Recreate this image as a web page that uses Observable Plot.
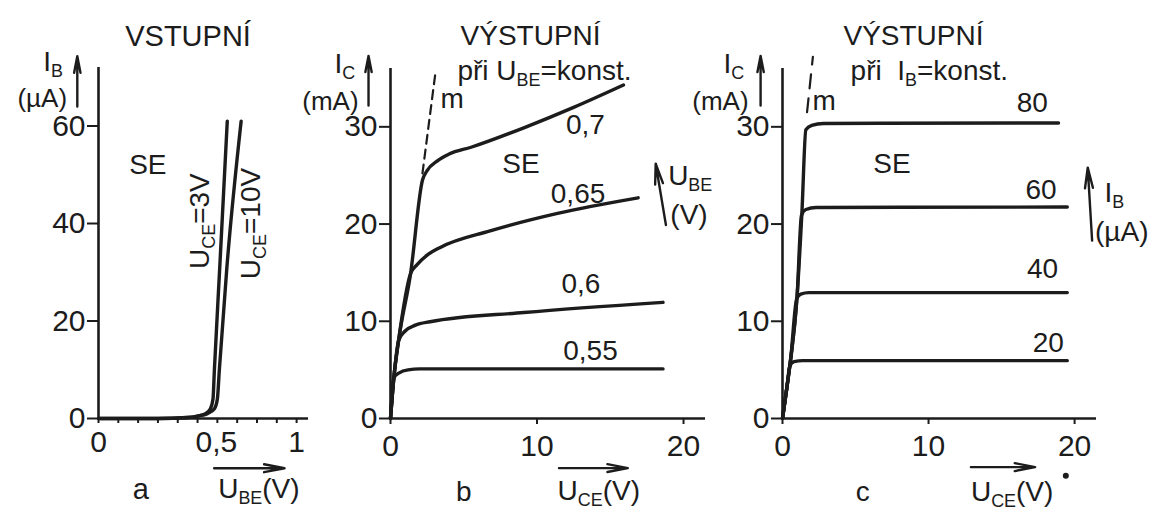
<!DOCTYPE html>
<html>
<head>
<meta charset="utf-8">
<script src="https://cdn.jsdelivr.net/npm/d3@7"></script>
<script src="https://cdn.jsdelivr.net/npm/@observablehq/plot@0.6"></script>
<style>
  html, body { margin: 0; padding: 0; background: #ffffff; }
  #chart { position: relative; width: 1157px; height: 512px; background: #ffffff; overflow: hidden; }
  #chart svg { position: absolute; left: 0; top: 0; background: transparent; }
</style>
</head>
<body>
<div id="chart"></div>
<script>
// ---------------- DATA ----------------
// Panel a: input characteristics I_B (µA) vs U_BE (V)
const inputUCE3V  = [[0,0],[0.3,0],[0.45,0.2],[0.5,0.5],[0.54,1],[0.565,2],[0.578,4],[0.585,10],[0.612,31],[0.65,61]];
const inputUCE10V = [[0,0],[0.3,0],[0.45,0.2],[0.5,0.5],[0.55,1],[0.585,2],[0.6,4],[0.61,10],[0.648,31],[0.72,61]];
// Panel b: output characteristics I_C (mA) vs U_CE (V) at constant U_BE
const outUBE055 = [[0,0],[0.23,4.2],[0.6,4.7],[1.2,5.0],[2,5.1],[18.6,5.1]];
const outUBE060 = [[0,0],[0.23,4.2],[0.55,8],[1.0,9.0],[1.7,9.6],[2.7,9.95],[9.1,10.9],[18.6,11.95]];
const outUBE065 = [[0,0],[0.23,4.2],[0.55,8],[1.37,14.9],[1.8,15.8],[2.5,16.8],[3.4,17.6],[6.8,19.3],[11.4,21.1],[16.9,22.7]];
const outUBE070 = [[0,0],[0.23,4.2],[0.55,8],[1.37,14.9],[2.18,24.5],[2.5,25.5],[3.2,26.5],[4,27.2],[5.5,27.9],[9.1,29.9],[12.5,32],[15.9,34.3]];
const mLineB = [[2.18,25.2],[3.07,35.6]];
// Panel c: output characteristics I_C (mA) vs U_CE (V) at constant I_B
const outIB20 = [[0,0],[0.3,3.2],[0.5,5.4],[0.8,5.85],[1.4,5.95],[19.5,5.95]];
const outIB40 = [[0,0],[0.3,3.2],[0.55,6],[0.97,12.3],[1.25,12.8],[1.8,12.95],[19.5,12.95]];
const outIB60 = [[0,0],[0.3,3.2],[0.55,6],[1.0,12.6],[1.3,20.9],[1.6,21.5],[2.3,21.7],[19.5,21.75]];
const outIB80 = [[0,0],[0.3,3.2],[0.55,6],[1.0,12.6],[1.33,21.2],[1.6,29.7],[2.0,30.15],[2.8,30.35],[18.9,30.4]];
const mLineC = [[1.68,31.5],[2.08,37.2]];
// Ticks
const aTicksMinor = [0,0.1,0.2,0.3,0.4,0.5,0.6,0.7,0.8,0.9,1];
const aTicksLabelled = [0,1];
const aTickHalf = [0.5];
const aTicksY = [0,20,40,60];
const bcTicksX = [0,10,20];
const bcTicksY = [0,10,20,30];
// Texts
const titleA = "VSTUPNÍ";
const titleBC = "VÝSTUPNÍ";
const curveLabelsB = ["0,7","0,65","0,6","0,55"];
const curveLabelsC = ["80","60","40","20"];

// -------------- HELPERS ---------------
const FONT = "'Liberation Sans', Arial, Helvetica, sans-serif";
const INK = "#1c1c1c";
const rows = (name, pts) => pts.map(([x, y]) => ({series: name, x, y}));
const comma = d => String(d).replace(".", ",");

function subscripts(svg) {
  const ns = "http://www.w3.org/2000/svg";
  svg.querySelectorAll("text").forEach(t => {
    const s = t.textContent;
    if (!s.includes("_{")) return;
    t.textContent = "";
    const parts = s.split(/(_\{[^}]*\})/).filter(p => p.length);
    let down = false;
    parts.forEach(p => {
      const ts = document.createElementNS(ns, "tspan");
      if (p.startsWith("_{")) {
        ts.textContent = p.slice(2, -1);
        ts.setAttribute("font-size", "64%");
        ts.setAttribute("dy", "6");
        down = true;
      } else {
        ts.textContent = p;
        if (down) { ts.setAttribute("dy", "-6"); down = false; }
      }
      t.appendChild(ts);
    });
  });
  return svg;
}

function mount(svg) {
  subscripts(svg);
  svg.style.position = "absolute";
  svg.style.left = "0px";
  svg.style.top = "0px";
  svg.style.background = "transparent";
  svg.style.maxWidth = "none";
  document.getElementById("chart").appendChild(svg);
}

const common = {
  width: 1157, height: 512,
  style: {fontFamily: FONT, fontSize: "29px", color: INK, background: "transparent"}
};
const lineOpts = {x: "x", y: "y", z: "series", curve: "monotone-x", stroke: INK, strokeWidth: 3.4, strokeLinejoin: "round", strokeLinecap: "round"};
const axisLineW = 2.6;
const arrowOpts = {stroke: INK, strokeWidth: 2.4, headLength: 13, headAngle: 22};

// -------------- PANEL A ---------------
const dataA = [...rows("3V", inputUCE3V), ...rows("10V", inputUCE10V)];
const aXmax = 1.06, aYmax = 72;
mount(Plot.plot({
  ...common,
  marginLeft: 98, marginRight: 849, marginTop: 67, marginBottom: 94,
  x: {domain: [0, aXmax], axis: null},
  y: {domain: [0, aYmax], axis: null},
  marks: [
    Plot.ruleX([0], {y1: 0, y2: aYmax, stroke: INK, strokeWidth: axisLineW}),
    Plot.ruleY([0], {x1: 0, x2: aXmax, stroke: INK, strokeWidth: axisLineW}),
    Plot.axisX({ticks: aTicksMinor, tickSize: 5, fill: "none", strokeWidth: 2, label: null}),
    Plot.axisX({ticks: aTicksLabelled, tickSize: 0, tickPadding: 12, tickFormat: comma, fontSize: 30, label: null}),
    Plot.axisX({ticks: aTickHalf, tickSize: 0, tickPadding: 12, tickFormat: comma, fontSize: 30, textAnchor: "start", dx: -2, label: null}),
    Plot.axisY({ticks: aTicksY, tickSize: 11, tickPadding: 2, strokeWidth: 2, fontSize: 30, label: null}),
    Plot.line(dataA, lineOpts),
    Plot.text([titleA], {x: 0.452, y: 76.4, text: d => d, textAnchor: "middle", lineAnchor: "bottom", fontSize: 29}),
    Plot.text(["SE"], {x: 0.249, y: 50.2, text: d => d, textAnchor: "middle", lineAnchor: "bottom", fontSize: 28}),
    Plot.text(["U_{CE}=3V"], {x: 0.512, y: 40.5, text: d => d, rotate: -90, textAnchor: "middle", lineAnchor: "middle", fontSize: 28}),
    Plot.text(["U_{CE}=10V"], {x: 0.771, y: 40, text: d => d, rotate: -90, textAnchor: "middle", lineAnchor: "middle", fontSize: 28}),
    Plot.text(["I_{B}"], {x: -0.279, y: 71.3, text: d => d, textAnchor: "start", lineAnchor: "bottom", fontSize: 28}),
    Plot.arrow([0], {x1: -0.107, y1: 64, x2: -0.107, y2: 74.3, ...arrowOpts}),
    Plot.text(["(µA)"], {x: -0.284, y: 64.0, text: d => d, textAnchor: "middle", lineAnchor: "bottom", fontSize: 26}),
    Plot.text(["a"], {x: 0.213, y: -16.6, text: d => d, textAnchor: "middle", lineAnchor: "bottom", fontSize: 29}),
    Plot.arrow([0], {x1: 0.584, y1: -10.2, x2: 0.939, y2: -10.2, ...arrowOpts}),
    Plot.text(["U_{BE}(V)"], {x: 0.604, y: -16.3, text: d => d, textAnchor: "start", lineAnchor: "bottom", fontSize: 28})
  ]
}));

// -------------- PANEL B ---------------
const dataB = [...rows("0.55", outUBE055), ...rows("0.6", outUBE060), ...rows("0.65", outUBE065), ...rows("0.7", outUBE070)];
const bcXmax = 21.5, bcYmax = 36;
const labelsB = [
  {text: curveLabelsB[0], x: 13.3, y: 29.3},
  {text: "SE", x: 8.9, y: 25.3},
  {text: curveLabelsB[1], x: 12.8, y: 22.2},
  {text: curveLabelsB[2], x: 13.0, y: 12.9},
  {text: curveLabelsB[3], x: 13.65, y: 6.0},
  {text: "b", x: 5.0, y: -8.5},
  {text: titleBC, x: 9.56, y: 38.4}
];
const startLabelsB = [
  {text: "při U_{BE}=konst.", x: 4.57, y: 34.8},
  {text: "m", x: 3.41, y: 31.9},
  {text: "U_{BE}", x: 18.95, y: 24.0},
  {text: "(V)", x: 19.1, y: 20.0},
  {text: "U_{CE}(V)", x: 11.4, y: -8.35}
];
mount(Plot.plot({
  ...common,
  marginLeft: 390, marginRight: 452, marginTop: 68, marginBottom: 94,
  x: {domain: [0, bcXmax], axis: null},
  y: {domain: [0, bcYmax], axis: null},
  marks: [
    Plot.ruleX([0], {y1: 0, y2: bcYmax, stroke: INK, strokeWidth: axisLineW}),
    Plot.ruleY([0], {x1: 0, x2: bcXmax, stroke: INK, strokeWidth: axisLineW}),
    Plot.axisX({ticks: bcTicksX, tickSize: 6, tickPadding: 10, strokeWidth: 2, fontSize: 30, label: null}),
    Plot.axisY({ticks: bcTicksY, tickSize: 11, tickPadding: 2, strokeWidth: 2, fontSize: 30, label: null}),
    Plot.line(rows("m", mLineB), {x: "x", y: "y", stroke: INK, strokeWidth: 2.2, strokeDasharray: "9,6"}),
    Plot.line(dataB, lineOpts),
    Plot.text(labelsB, {x: "x", y: "y", text: "text", textAnchor: "middle", lineAnchor: "bottom", fontSize: 28}),
    Plot.text(startLabelsB, {x: "x", y: "y", text: "text", textAnchor: "start", lineAnchor: "bottom", fontSize: 28}),
    Plot.text(["I_{C}"], {x: -3.82, y: 35.5, text: d => d, textAnchor: "start", lineAnchor: "bottom", fontSize: 28}),
    Plot.text(["(mA)"], {x: -4.1, y: 31.75, text: d => d, textAnchor: "middle", lineAnchor: "bottom", fontSize: 26}),
    Plot.arrow([0], {x1: -1.5, y1: 32.2, x2: -1.5, y2: 37.3, ...arrowOpts}),
    Plot.arrow([0], {x1: 18.8, y1: 19.9, x2: 18.1, y2: 26.2, ...arrowOpts}),
    Plot.arrow([0], {x1: 11.5, y1: -5.1, x2: 16.2, y2: -5.1, ...arrowOpts})
  ]
}));

// -------------- PANEL C ---------------
const dataC = [...rows("20", outIB20), ...rows("40", outIB40), ...rows("60", outIB60), ...rows("80", outIB80)];
const labelsC = [
  {text: curveLabelsC[0], x: 17.1, y: 31.5},
  {text: "SE", x: 7.5, y: 25.3},
  {text: curveLabelsC[1], x: 17.7, y: 22.6},
  {text: curveLabelsC[2], x: 17.8, y: 14.5},
  {text: curveLabelsC[3], x: 18.2, y: 6.8},
  {text: "c", x: 5.5, y: -8.5},
  {text: titleBC, x: 8.97, y: 38.4}
];
const startLabelsC = [
  {text: "při  I_{B}=konst.", x: 4.66, y: 34.8},
  {text: "m", x: 2.05, y: 31.7},
  {text: "I_{B}", x: 22.05, y: 22.3},
  {text: "(µA)", x: 21.4, y: 18.3},
  {text: "U_{CE}(V)", x: 12.9, y: -8.45}
];
mount(Plot.plot({
  ...common,
  marginLeft: 782, marginRight: 61, marginTop: 68, marginBottom: 94,
  x: {domain: [0, bcXmax], axis: null},
  y: {domain: [0, bcYmax], axis: null},
  marks: [
    Plot.ruleX([0], {y1: 0, y2: bcYmax, stroke: INK, strokeWidth: axisLineW}),
    Plot.ruleY([0], {x1: 0, x2: bcXmax, stroke: INK, strokeWidth: axisLineW}),
    Plot.axisX({ticks: bcTicksX, tickSize: 6, tickPadding: 10, strokeWidth: 2, fontSize: 30, label: null}),
    Plot.axisY({ticks: bcTicksY, tickSize: 11, tickPadding: 2, strokeWidth: 2, fontSize: 30, label: null}),
    Plot.line(rows("m", mLineC), {x: "x", y: "y", stroke: INK, strokeWidth: 2.2, strokeDasharray: "14,10"}),
    Plot.line(dataC, lineOpts),
    Plot.text(labelsC, {x: "x", y: "y", text: "text", textAnchor: "middle", lineAnchor: "bottom", fontSize: 28}),
    Plot.text(startLabelsC, {x: "x", y: "y", text: "text", textAnchor: "start", lineAnchor: "bottom", fontSize: 28}),
    Plot.text(["I_{C}"], {x: -4.04, y: 35.5, text: d => d, textAnchor: "start", lineAnchor: "bottom", fontSize: 28}),
    Plot.text(["(mA)"], {x: -4.25, y: 31.75, text: d => d, textAnchor: "middle", lineAnchor: "bottom", fontSize: 26}),
    Plot.arrow([0], {x1: -1.5, y1: 32.2, x2: -1.5, y2: 37.3, ...arrowOpts}),
    Plot.arrow([0], {x1: 21.2, y1: 18.3, x2: 20.9, y2: 25.8, ...arrowOpts}),
    Plot.arrow([0], {x1: 12.9, y1: -5.0, x2: 17.3, y2: -5.0, ...arrowOpts}),
    Plot.dot([0], {x: 19.4, y: -5.9, r: 3, fill: INK, stroke: null})
  ]
}));
</script>
</body>
</html>
